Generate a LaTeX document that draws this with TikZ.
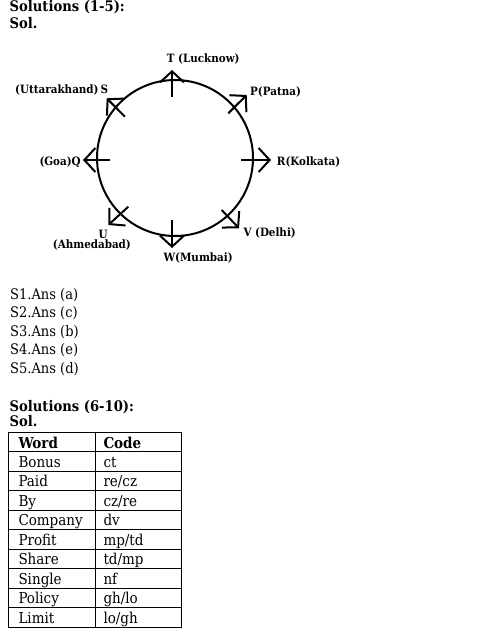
\documentclass[tikz,border=0pt]{standalone}
\usepackage{fontspec}
\setmainfont{DejaVu Serif Condensed}
\usetikzlibrary{arrows.meta}
\tikzset{
  lbl/.style={font=\bfseries\fontsize{11.5}{13}\selectfont, inner sep=0pt, anchor=base west},
  head/.style={font=\bfseries\fontsize{14.6}{16}\selectfont, inner sep=0pt, anchor=base west},
  ans/.style={font=\fontsize{14.5}{16}\selectfont, inner sep=0pt, anchor=base west},
  cell/.style={font=\fontsize{15}{17}\selectfont, inner sep=0pt, anchor=base west},
  cellb/.style={font=\bfseries\fontsize{15}{17}\selectfont, inner sep=0pt, anchor=base west},
  ring/.style={line width=2pt},
  arr/.style={line width=2pt, -{Straight Barb[length=11pt,width=24pt]}},
  grid/.style={line width=1pt}
}
\begin{document}
\begin{tikzpicture}[x=1pt,y=-1pt]
\useasboundingbox (0,0) rectangle (495,632);
% headers
\node[head] (h1) at (9.5,11) {Solutions (1-5):};
\node[head] (h2) at (9.5,28) {Sol.};
% circle
\coordinate (c) at (175,158);
\draw[ring] (c) circle[radius=78pt];
% arrows
\coordinate (Ttail) at (172,97);    \coordinate (Ttip) at (172,70);
\coordinate (Ptail) at (228.3,113.3); \coordinate (Ptip) at (246.7,95);
\coordinate (Rtail) at (241,160);   \coordinate (Rtip) at (271,160);
\coordinate (Vtail) at (221.7,210); \coordinate (Vtip) at (239,228.3);
\coordinate (Wtail) at (172,220);   \coordinate (Wtip) at (172,248);
\coordinate (Utail) at (128.3,206.7); \coordinate (Utip) at (108.3,225);
\coordinate (Qtail) at (110,160);   \coordinate (Qtip) at (83,160);
\coordinate (Stail) at (125,116.7); \coordinate (Stip) at (106.7,98.3);
\foreach \k in {T,P,R,V,W,U,Q,S} \draw[arr] (\k tail) -- (\k tip);
% labels
\node[lbl] (lT) at (166.7,62.7) {T (Lucknow)};
\node[lbl] (lP) at (250,95) {P(Patna)};
\node[lbl] (lS) at (15,93.3) {(Uttarakhand)\,S};
\node[lbl] (lQ) at (39.3,165) {(Goa)Q};
\node[lbl] (lR) at (276.7,165) {R(Kolkata)};
\node[lbl] (lU) at (98.5,238.3) {U};
\node[lbl] (lU2) at (52.7,248.3) {(Ahmedabad)};
\node[lbl] (lV) at (243.3,236.7) {V (Delhi)};
\node[lbl] (lW) at (163.3,261.7) {W(Mumbai)};
% answers
\foreach \t [count=\i from 0] in {S1.Ans (a),S2.Ans (c),S3.Ans (b),S4.Ans (e),S5.Ans (d)}
  \node[ans] (a\i) at (10,299+18.5*\i) {\t};
\node[head] (h3) at (9.5,411) {Solutions (6-10):};
\node[head] (h4) at (9.5,426.7) {Sol.};
% table
\def\ty{432.5}\def\th{19.45}
\draw[grid] (8.5,\ty) rectangle (181.7,\ty+10*\th);
\draw[grid] (95.7,\ty) -- (95.7,\ty+10*\th);
\foreach \i in {1,...,9} \draw[grid] (8.5,\ty+\i*\th) -- (181.7,\ty+\i*\th);
\node[cellb] (w0) at (18.3,\ty+0.5*\th+5.8) {Word};
\node[cellb] (c0) at (103.3,\ty+0.5*\th+5.8) {Code};
\foreach \w/\c [count=\i from 1] in {Bonus/ct,Paid/re\slash cz,By/cz\slash re,Company/dv,Profit/mp\slash td,Share/td\slash mp,Single/nf,Policy/gh\slash lo,Limit/lo\slash gh}{
  \node[cell] (w\i) at (18.3,\ty+\i*\th+0.5*\th+5.8) {\w};
  \node[cell] (c\i) at (103.3,\ty+\i*\th+0.5*\th+5.8) {\c};
}
\end{tikzpicture}
\end{document}
